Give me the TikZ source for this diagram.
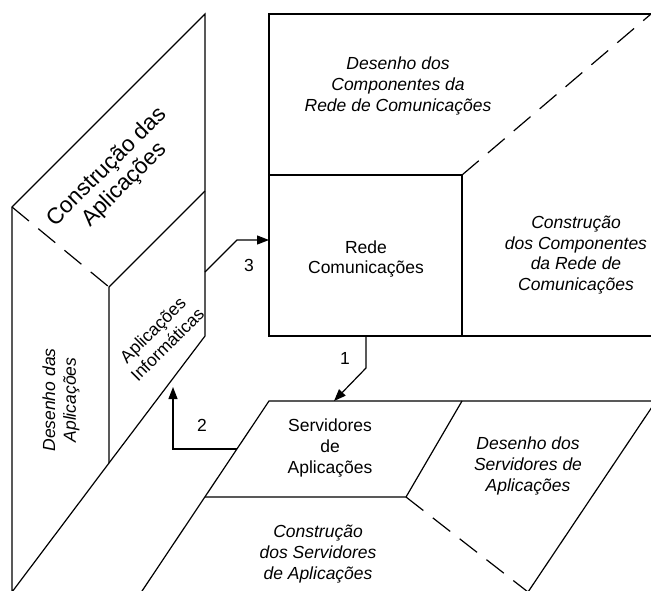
\documentclass[tikz,border=0pt]{standalone}
\usepackage{fontspec}
\setmainfont{Liberation Sans}
\usepackage{tikz}
\usetikzlibrary{arrows.meta}
\tikzset{
	face/.append style={
		align = center,
		inner sep=0mm,
		font={\fontsize{8.75}{10.3}\selectfont}
	},
	facelabe/.append style={
		face,
		font={\fontsize{8.75}{10.3}\selectfont\itshape}
	},
	bigface/.append style={
		align = center,
		inner sep=0mm,
		font={\fontsize{11.3}{12.5}\selectfont}
	},
	facet/.append style={
		line width=0.6pt,
		line join=miter,
	},
	foldline/.append style={
		facet,
		dash pattern=on 11pt off 6pt,
	},
	flow/.append style={
		line width=0.6pt,
		-{Triangle[length=6pt,width=4.5pt]},
	},
	num/.append style={
		inner sep=0mm,
		font={\fontsize{8.75}{10.3}\selectfont}
	}
}

\begin{document}
\begin{tikzpicture}[x=0.5pt, y=-0.5pt]
	\useasboundingbox (0,0) rectangle (651,590);
	\clip (0,0) rectangle (651,590);
	
	% aplicacoes (left, folded)
	\coordinate (apTL) at (12,207);
	\coordinate (apTR) at (205,14);
	\coordinate (apBR) at (205,336);
	\coordinate (apBot) at (12,592);
	\coordinate (apMid) at (205,191);
	\coordinate (apFold) at (109,287);
	\coordinate (apIn) at (109,463);
	\draw[facet] (apBot) -- (apTL) -- (apTR) -- (apBR) -- (apIn) -- (apBot);
	\draw[facet] (apMid) -- (apFold) -- (apIn);
	\draw[foldline] (apTL) -- (apFold);
	
	% rede de comunicacoes (top right)
	\coordinate (reTL) at (269,14);
	\coordinate (reBL) at (269,336);
	\coordinate (reMidL) at (269,175);
	\coordinate (reFold) at (462,175);
	\draw[facet] (655,14) -- (reTL) -- (reBL) -- (655,336);
	\draw[facet] (reMidL) -- (reFold) -- (462,336);
	\draw[foldline] (reFold) -- (651,14);
	
	% servidores (bottom)
	\coordinate (svTL) at (269,401);
	\coordinate (svTR) at (656,401);
	\coordinate (svBR) at (528,592);
	\coordinate (svMid) at (462,401);
	\coordinate (svFold) at (406,497);
	\draw[facet] (svTR) -- (svTL) -- (136,600);
	\draw[facet] (svTR) -- (svBR);
	\draw[facet] (svMid) -- (svFold) -- (205,497);
	\draw[foldline] (svFold) -- (svBR);
	
	% texts
	\node(apTitle)[bigface, rotate=45] at (116,176) {Construção das\\Aplicações};
	\node(apInf)[face, rotate=45] at (160,337) {Aplicações\\Informáticas};
	\node(apDes)[facelabe, rotate=90] at (61,400) {Desenho das\\Aplicações};
	
	\node(reDes)[facelabe] at (398,86) {Desenho dos\\Componentes da\\Rede de Comunicações};
	\node(reCom)[face] at (366,259) {Rede\\Comunicações};
	\node(reCon)[facelabe] at (576,255) {Construção\\dos Componentes\\da Rede de\\Comunicações};
	
	\node(svApl)[face] at (330,448) {Servidores\\de\\Aplicações};
	\node(svDes)[facelabe] at (528,466) {Desenho dos\\Servidores de\\Aplicações};
	\node(svCon)[facelabe] at (318,554) {Construção\\dos Servidores\\de Aplicações};
	
	% connectors
	\coordinate (out3) at (205,272);
	\coordinate (in3) at (269,240);
	\draw[flow] (out3) -- ++(32,-32) -- (in3);
	\node(n3)[num] at (249,265) {3};
	
	\coordinate (out1) at (366,336);
	\coordinate (in1) at (334,401);
	\draw[flow] (out1) -- ++(0,32) -- (in1);
	\node(n1)[num] at (345,358) {1};
	
	\coordinate (out2) at (237,449);
	\coordinate (in2) at (173,387);
	\draw[flow] (out2) -- (out2 -| in2) -- (in2);
	\node(n2)[num] at (202,425) {2};
	
\end{tikzpicture}
\end{document}
